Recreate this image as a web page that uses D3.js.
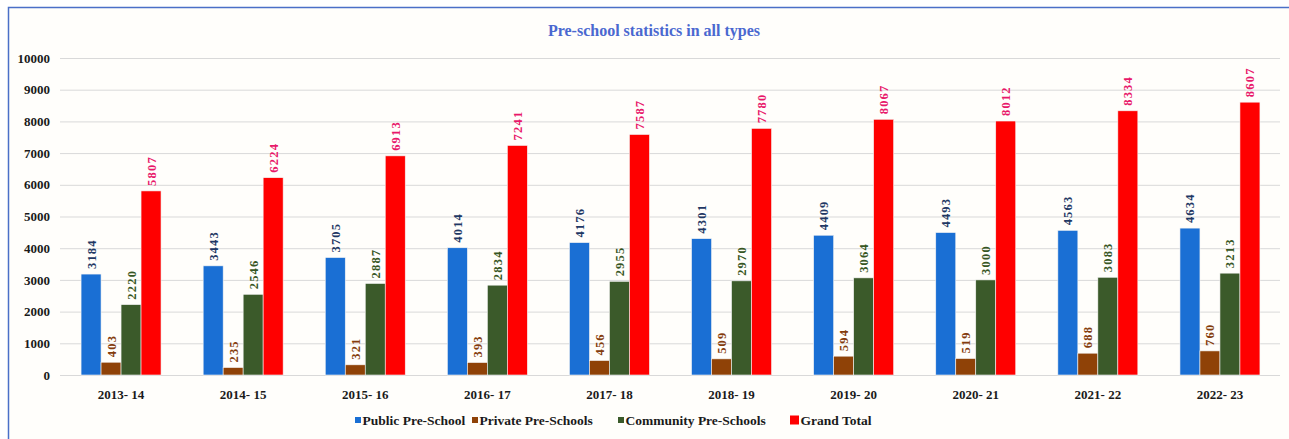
<!DOCTYPE html>
<html>
<head>
<meta charset="utf-8">
<script src="https://cdn.jsdelivr.net/npm/d3@7"></script>
<style>
  html, body { margin: 0; padding: 0; background: #ffffff; }
  svg { display: block; }
  text { font-family: "Liberation Serif", "Times New Roman", serif; font-weight: bold; }
</style>
</head>
<body>
<svg id="chart" width="1289" height="439"></svg>
<script>
// School years shown along the x axis
const years = ["2013- 14", "2014- 15", "2015- 16", "2016- 17", "2017- 18",
               "2018- 19", "2019- 20", "2020- 21", "2021- 22", "2022- 23"];

// Number of pre-schools by type
const publicPre    = [3184, 3443, 3705, 4014, 4176, 4301, 4409, 4493, 4563, 4634];
const privatePre   = [403, 235, 321, 393, 456, 509, 594, 519, 688, 760];
const communityPre = [2220, 2546, 2887, 2834, 2955, 2970, 3064, 3000, 3083, 3213];
const grandTotal   = [5807, 6224, 6913, 7241, 7587, 7780, 8067, 8012, 8334, 8607];

const seriesNames = ["Public Pre-School", "Private Pre-Schools", "Community Pre-Schools", "Grand Total"];
const yTicks = [0, 1000, 2000, 3000, 4000, 5000, 6000, 7000, 8000, 9000, 10000];

const series = [
  { name: seriesNames[0], values: publicPre,    fill: "#1a6fd4", label: "#1f3864", marker: 6 },
  { name: seriesNames[1], values: privatePre,   fill: "#8f4207", label: "#843c0c", marker: 6 },
  { name: seriesNames[2], values: communityPre, fill: "#3b5a2a", label: "#375623", marker: 6 },
  { name: seriesNames[3], values: grandTotal,   fill: "#ff0000", label: "#e8186a", marker: 9 }
];

const svg = d3.select("#chart");

// Frame
svg.append("rect")
  .attr("x", 8.5).attr("y", 7.5)
  .attr("width", 1300).attr("height", 450)
  .attr("fill", "#fffefb")
  .attr("stroke", "#4a6fc8").attr("stroke-width", 1.5);

// Title
svg.append("text")
  .attr("x", 654).attr("y", 36)
  .attr("text-anchor", "middle")
  .attr("font-size", 16)
  .attr("fill", "#4a68d0")
  .text("Pre-school statistics in all types");

const plotLeft = 60, plotRight = 1281, plotTop = 58, plotBottom = 375;

const x0 = d3.scaleBand().domain(years).range([plotLeft, plotRight]).paddingInner(0.345).paddingOuter(0.1725);
const x1 = d3.scaleBand().domain(seriesNames).range([0, x0.bandwidth()]);
const y = d3.scaleLinear().domain([0, 10000]).range([plotBottom, plotTop]);

// Gridlines
svg.append("g")
  .selectAll("line")
  .data(yTicks)
  .join("line")
  .attr("x1", plotLeft).attr("x2", plotRight - 1)
  .attr("y1", d => y(d) + 0.5).attr("y2", d => y(d) + 0.5)
  .attr("stroke", "#d9d9d9").attr("stroke-width", 1);

// Y axis labels
const yAxis = d3.axisLeft(y).tickValues(yTicks).tickSize(0).tickPadding(0).tickFormat(d3.format("d"));
svg.append("g")
  .attr("transform", `translate(50,0)`)
  .call(yAxis)
  .call(g => g.select(".domain").remove())
  .call(g => g.selectAll("text")
    .attr("font-size", 13)
    .attr("font-family", "Liberation Serif, serif")
    .attr("font-weight", "bold")
    .attr("fill", "#1a1a1a"));

// X axis labels
const xAxis = d3.axisBottom(x0).tickSize(0).tickPadding(0);
svg.append("g")
  .attr("transform", `translate(0,${plotBottom + 24})`)
  .call(xAxis)
  .call(g => g.select(".domain").remove())
  .call(g => g.selectAll("text")
    .attr("dy", 0)
    .attr("font-size", 13)
    .attr("font-family", "Liberation Serif, serif")
    .attr("font-weight", "bold")
    .attr("fill", "#1a1a1a"));

// Bars and value labels
const groups = svg.append("g")
  .selectAll("g")
  .data(years)
  .join("g")
  .attr("transform", d => `translate(${x0(d)},0)`);

series.forEach(s => {
  groups.append("rect")
    .attr("x", x1(s.name))
    .attr("y", (d, i) => y(s.values[i]))
    .attr("width", x1.bandwidth())
    .attr("height", (d, i) => y(0) - y(s.values[i]))
    .attr("fill", s.fill)
    .attr("stroke", "#f4f4f4").attr("stroke-width", 0.6);

  groups.append("text")
    .attr("transform", (d, i) =>
      `translate(${x1(s.name) + x1.bandwidth() / 2 + 4.5},${y(s.values[i]) - 5}) rotate(-90)`)
    .attr("text-anchor", "start")
    .attr("font-size", 12.5)
    .attr("letter-spacing", 1.2)
    .attr("fill", s.label)
    .text((d, i) => s.values[i]);
});

// Legend
const legendX = [355, 472, 618, 790];
const legend = svg.append("g")
  .selectAll("g")
  .data(series)
  .join("g")
  .attr("transform", (d, i) => `translate(${legendX[i]},0)`);

legend.append("rect")
  .attr("x", 0)
  .attr("y", d => 420 - d.marker / 2)
  .attr("width", d => d.marker).attr("height", d => d.marker)
  .attr("fill", d => d.fill);

legend.append("text")
  .attr("x", d => d.marker + 1.5)
  .attr("y", 425)
  .attr("font-size", 13.5)
  .attr("fill", "#1a1a1a")
  .text(d => d.name);
</script>
</body>
</html>
